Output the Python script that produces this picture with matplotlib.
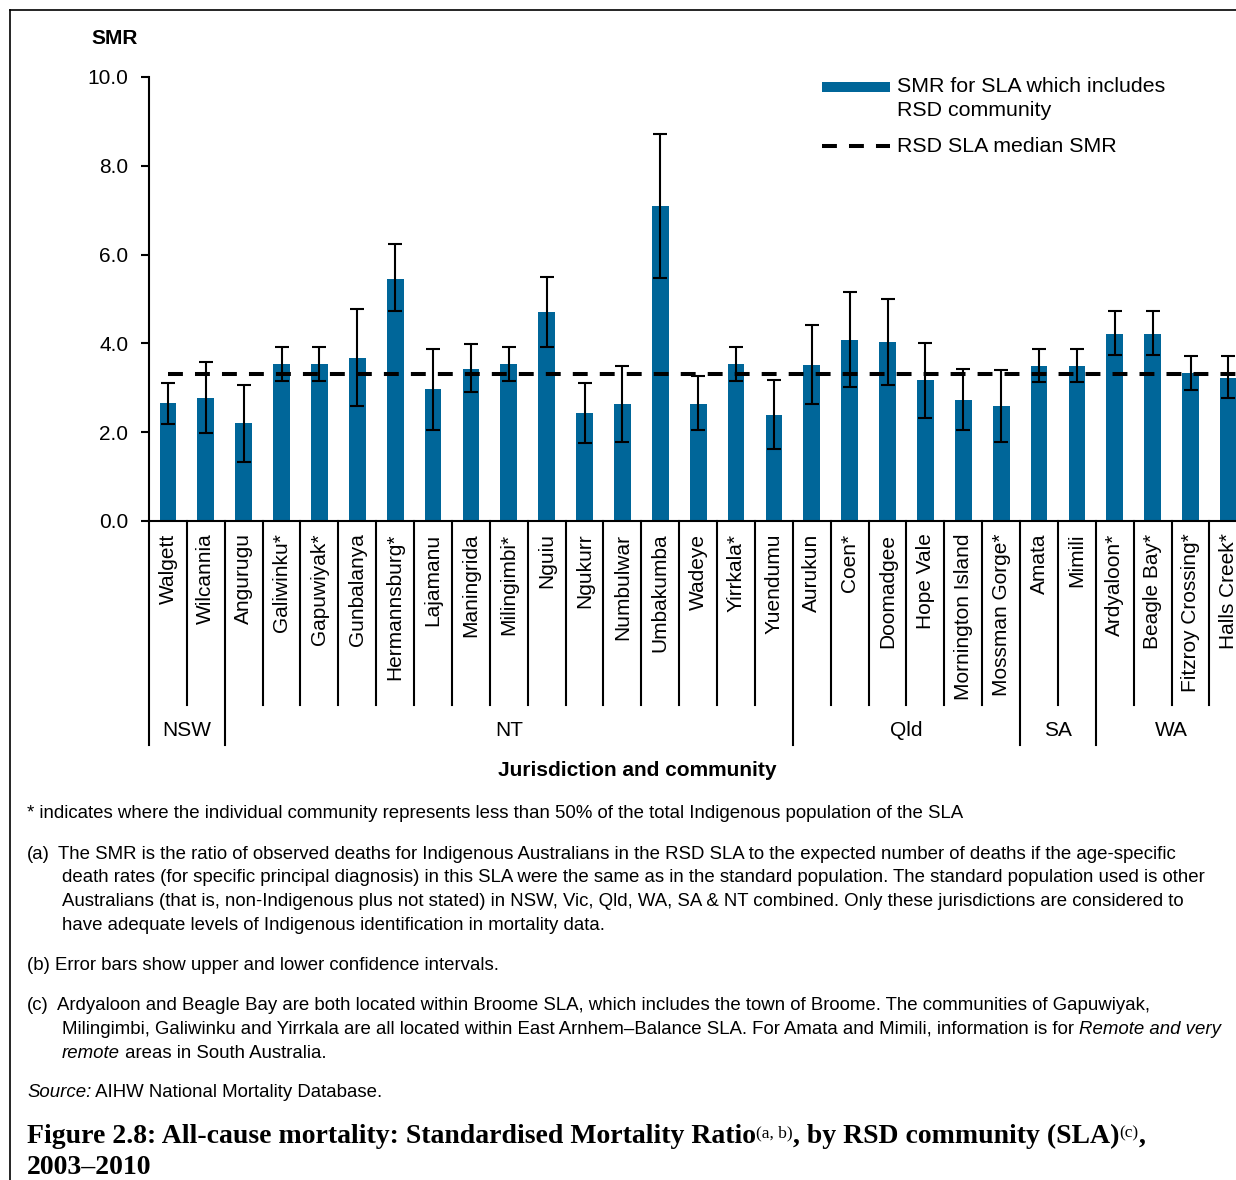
import matplotlib
matplotlib.use('Agg')
import matplotlib.pyplot as plt
from matplotlib.lines import Line2D
import numpy as np

# data
communities = ['Walgett', 'Wilcannia', 'Angurugu', 'Galiwinku*', 'Gapuwiyak*', 'Gunbalanya',
               'Hermannsburg*', 'Lajamanu', 'Maningrida', 'Milingimbi*', 'Nguiu', 'Ngukurr',
               'Numbulwar', 'Umbakumba', 'Wadeye', 'Yirrkala*', 'Yuendumu', 'Aurukun', 'Coen*',
               'Doomadgee', 'Hope Vale', 'Mornington Island', 'Mossman Gorge*', 'Amata', 'Mimili',
               'Ardyaloon*', 'Beagle Bay*', 'Fitzroy Crossing*', 'Halls Creek*']
smr = [2.65, 2.77, 2.20, 3.54, 3.54, 3.67, 5.46, 2.97, 3.43, 3.54, 4.71, 2.43, 2.64, 7.09,
       2.64, 3.54, 2.38, 3.51, 4.08, 4.03, 3.18, 2.73, 2.59, 3.49, 3.49, 4.22, 4.22, 3.33, 3.23]
lower = [2.18, 1.99, 1.33, 3.15, 3.15, 2.58, 4.72, 2.06, 2.91, 3.15, 3.93, 1.75, 1.79, 5.47,
         2.05, 3.15, 1.62, 2.63, 3.01, 3.06, 2.33, 2.05, 1.78, 3.13, 3.13, 3.74, 3.74, 2.96, 2.78]
upper = [3.11, 3.59, 3.07, 3.93, 3.93, 4.78, 6.23, 3.88, 3.99, 3.93, 5.49, 3.10, 3.49, 8.72,
         3.26, 3.93, 3.18, 4.41, 5.15, 5.00, 4.02, 3.43, 3.41, 3.87, 3.87, 4.73, 4.73, 3.72, 3.71]
median_smr = 3.30
jurisdictions = ['NSW', 'NT', 'Qld', 'SA', 'WA']
jurisdiction_sizes = [2, 15, 6, 2, 4]

BLUE = '#006699'
SANS = 'Liberation Sans'
SERIF = 'Liberation Serif'

W, H = 1236, 1180
fig = plt.figure(figsize=(W / 100, H / 100), dpi=100)


def fx(px):
    return px / W


def fy(py):
    return 1 - py / H


ax = fig.add_axes([fx(149), fy(521), fx(1236) - fx(149), (521 - 77) / H])

x = np.arange(len(communities))
smr_a = np.array(smr)
yerr = [smr_a - np.array(lower), np.array(upper) - smr_a]
ax.bar(x, smr_a, width=0.44, color=BLUE, zorder=2)
ax.errorbar(x, smr_a, yerr=yerr, fmt='none', ecolor='black', elinewidth=1.5,
            capsize=4.7, capthick=1.5, zorder=3)
ax.plot([x[0], x[-1] + 0.5], [median_smr, median_smr], color='black', lw=2.9,
        ls=(0, (3.7, 3.0)), zorder=4, clip_on=False)

ax.set_xlim(-0.5, 28.2)
ax.set_ylim(0, 10)
ax.set_yticks(np.arange(0, 10.1, 2))
ax.set_yticklabels([f'{v:.1f}' for v in np.arange(0, 10.1, 2)], fontsize=15, family=SANS)
ax.tick_params(axis='y', length=6, width=1.5, pad=9)
ax.set_xticks(x)
ax.set_xticklabels(communities, rotation=90, fontsize=15, family=SANS)
ax.tick_params(axis='x', length=0, pad=9)
for side in ['top', 'right']:
    ax.spines[side].set_visible(False)
for side in ['left', 'bottom']:
    ax.spines[side].set_linewidth(1.5)

# category and jurisdiction separators below the axis
tr = ax.get_xaxis_transform()
short_y = (521 - 705) / 444
long_y = (521 - 745) / 444
bounds = np.cumsum([0] + jurisdiction_sizes) - 0.5
for b in np.arange(-0.5, len(communities), 1.0):
    yy = long_y if b in bounds else short_y
    ax.plot([b, b], [0, yy], color='black', lw=1.5, transform=tr, clip_on=False)
group_y = (521 - 731) / 444
for name, lo, hi in zip(jurisdictions, bounds[:-1], bounds[1:]):
    ax.text((lo + hi) / 2, group_y, name, transform=tr, ha='center', va='center',
            fontsize=15, family=SANS)

fig.text(fx(115), fy(39), 'SMR', ha='center', va='center', fontsize=15,
         weight='bold', family=SANS)
fig.text(fx(637), fy(770), 'Jurisdiction and community', ha='center', va='center',
         fontsize=15, weight='bold', family=SANS)

# legend drawn by hand
fig.add_artist(Line2D([fx(822), fx(890)], [fy(87), fy(87)], color=BLUE, lw=7.2,
                      solid_capstyle='butt'))
fig.add_artist(Line2D([fx(822), fx(890)], [fy(146), fy(146)], color='black', lw=2.9,
                      ls=(0, (3.7, 3.0))))
fig.text(fx(897), fy(86), 'SMR for SLA which includes', va='center', fontsize=15.4, family=SANS)
fig.text(fx(897), fy(111), 'RSD community', va='center', fontsize=15.4, family=SANS)
fig.text(fx(897), fy(146), 'RSD SLA median SMR', va='center', fontsize=15.4, family=SANS)

# frame lines
fig.add_artist(Line2D([fx(10), fx(1236)], [fy(10), fy(10)], color='black', lw=1.2))
fig.add_artist(Line2D([fx(10), fx(10)], [fy(10), fy(1180)], color='black', lw=1.2))

renderer = fig.canvas.get_renderer()


def run_width(s, **kw):
    t1 = fig.text(0, 0, s + '|', **kw)
    t2 = fig.text(0, 0, '|', **kw)
    w = t1.get_window_extent(renderer).width - t2.get_window_extent(renderer).width
    t1.remove()
    t2.remove()
    return w


def text_runs(x0, base, runs, **base_kw):
    xp = x0
    for s, kw in runs:
        kw = dict(base_kw, **kw)
        dy = kw.pop('dy', 0)
        fig.text(fx(xp), fy(base - dy), s, va='baseline', **kw)
        xp += run_width(s, **kw)


FN = dict(fontsize=13.45, family=SANS)
text_runs(27, 818, [('* indicates where the individual community represents less than 50% '
                     'of the total Indigenous population of the SLA', {})], **FN)
text_runs(27, 859, [('(a)', {})], **FN)
text_runs(58, 859, [('The SMR is the ratio of observed deaths for Indigenous Australians in the '
                     'RSD SLA to the expected number of deaths if the age-specific', {})], **FN)
text_runs(62, 882, [('death rates (for specific principal diagnosis) in this SLA were the same as '
                     'in the standard population. The standard population used is other', {})], **FN)
text_runs(62, 906, [('Australians (that is, non-Indigenous plus not stated) in NSW, Vic, Qld, WA, '
                     'SA & NT combined. Only these jurisdictions are considered to', {})], **FN)
text_runs(62, 930, [('have adequate levels of Indigenous identification in mortality data.', {})], **FN)
text_runs(27, 970, [('(b) Error bars show upper and lower confidence intervals.', {})], **FN)
text_runs(27, 1010, [('(c)', {})], **FN)
text_runs(57, 1010, [('Ardyaloon and Beagle Bay are both located within Broome SLA, which includes '
                      'the town of Broome. The communities of Gapuwiyak,', {})], **FN)
text_runs(62, 1034, [('Milingimbi, Galiwinku and Yirrkala are all located within East Arnhem\u2013Balance '
                      'SLA. For Amata and Mimili, information is for ', {}),
                     ('Remote and very', {'style': 'italic'})], **FN)
text_runs(62, 1058, [('remote', {'style': 'italic'}), (' areas in South Australia.', {})], **FN)
text_runs(27, 1097, [('Source:', {'style': 'italic'}), (' AIHW National Mortality Database.', {})], **FN)

TI = dict(fontsize=20, family=SERIF, weight='bold')
SUP = {'fontsize': 12.5, 'weight': 'normal', 'dy': 6}
text_runs(27, 1143, [('Figure 2.8: All-cause mortality: Standardised Mortality Ratio', {}),
                     ('(a, b)', SUP), (', by RSD community (SLA)', {}), ('(c)', SUP), (',', {})], **TI)
text_runs(27, 1174, [('2003\u20132010', {})], **TI)

fig.savefig('out.png', dpi=100)
